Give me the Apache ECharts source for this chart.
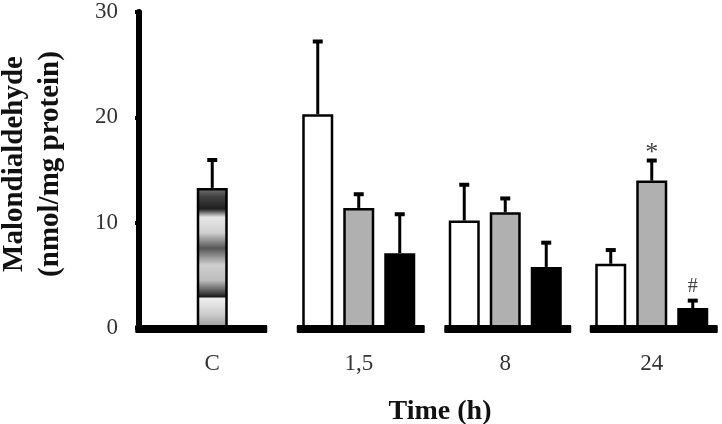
<!DOCTYPE html>
<html>
<head>
<meta charset="utf-8">
<script src="https://cdn.jsdelivr.net/npm/echarts@6/dist/echarts.min.js"></script>
<style>html,body{margin:0;padding:0;background:#fff}#c{width:722px;height:424px}</style>
</head>
<body>
<div id="c"></div>
<script>
// ---- data ----
var categories = ['C', '1,5', '8', '24'];
var yTicks = [0, 10, 20, 30];
var whiteVals = ['-', 20.3, 10.2, 6.1];
var whiteErr  = [null, 6.9, 3.4, 1.3];
var grayVals  = [13.3, 11.4, 11.0, 14.0];
var grayErr   = [2.65, 1.3, 1.3, 1.9];
var blackVals = ['-', 7.1, 5.8, 1.9];
var blackErr  = [null, 3.7, 2.3, 0.7];
var graySig   = ['', '', '', '*'];
var blackSig  = ['', '', '', '#'];

// ---- style ----
var FONT = '"Liberation Serif","Times New Roman",serif';
var BAR_W = 31, GAP = 10;
var baseExt = [[-77, 55], [-62, 66], [-61, 66], [-62, 66]];

var chart = echarts.init(document.getElementById('c'), null, {renderer: 'canvas'});

var cGradient = new echarts.graphic.LinearGradient(0, 0, 0, 1, [
  {offset: 0.00, color: '#777'},
  {offset: 0.06, color: '#444'},
  {offset: 0.15, color: '#1e1e1e'},
  {offset: 0.21, color: '#e6e6e6'},
  {offset: 0.32, color: '#cfcfcf'},
  {offset: 0.43, color: '#555'},
  {offset: 0.55, color: '#cfcfcf'},
  {offset: 0.66, color: '#bdbdbd'},
  {offset: 0.75, color: '#444'},
  {offset: 0.775, color: '#1a1a1a'},
  {offset: 0.79, color: '#f0f0f0'},
  {offset: 0.9, color: '#cccccc'},
  {offset: 1.00, color: '#9a9a9a'}
]);

function barData(vals, special) {
  return vals.map(function (v, i) {
    if (special && special[i]) return {value: v, itemStyle: special[i]};
    return v;
  });
}

function errSeries(vals, errs, sigs, slot) {
  var data = [];
  vals.forEach(function (v, i) { if (v !== '-' && errs[i] != null) data.push([i, v, errs[i]]); });
  return {
    type: 'custom',
    z: 5,
    data: data,
    encode: {x: 0, y: 1},
    renderItem: function (params, api) {
      var i = api.value(0), v = api.value(1), e = api.value(2);
      var b = api.coord([i, v]);
      var t = api.coord([i, v + e]);
      var x = b[0] + slot * (BAR_W + GAP);
      var children = [
        {type: 'line', shape: {x1: x, y1: b[1], x2: x, y2: t[1]}, style: {stroke: '#000', lineWidth: 3}},
        {type: 'line', shape: {x1: x - 5, y1: t[1], x2: x + 5, y2: t[1]}, style: {stroke: '#000', lineWidth: 4}}
      ];
      var s = sigs ? sigs[i] : '';
      if (s) {
        children.push({type: 'text', style: {text: s, x: x, y: (s === '*' ? t[1] + 6 : t[1] - 4), align: 'center', verticalAlign: 'bottom',
          font: (s === '*' ? '26px ' : '20px ') + FONT, fill: '#444'}});
      }
      return {type: 'group', children: children};
    }
  };
}

var option = {
  animation: false,
  backgroundColor: '#fff',
  grid: {left: 139, top: 12, bottom: 96, width: 586, containLabel: false, outerBoundsMode: 'none'},
  xAxis: {
    type: 'category',
    data: categories,
    axisLine: {show: false},
    axisTick: {show: false},
    axisLabel: {fontFamily: FONT, fontSize: 23, color: '#333', margin: 24},
    name: 'Time (h)',
    nameLocation: 'middle',
    nameGap: 70,
    nameTextStyle: {fontFamily: FONT, fontSize: 28, fontWeight: 'bold', color: '#111', padding: [0, 0, 0, 16]},
    splitLine: {show: false}
  },
  yAxis: {
    type: 'value',
    min: yTicks[0], max: yTicks[yTicks.length - 1], interval: 10,
    axisLine: {show: true, lineStyle: {color: '#000', width: 6, cap: 'round'}},
    axisTick: {show: true, length: 4, lineStyle: {color: '#000', width: 4}},
    axisLabel: {fontFamily: FONT, fontSize: 23, color: '#333', margin: 21},
    splitLine: {show: false},
    name: 'Malondialdehyde\n(nmol/mg protein)',
    nameLocation: 'middle',
    nameRotate: 90,
    nameGap: 70,
    nameTextStyle: {fontFamily: FONT, fontSize: 29, fontWeight: 'bold', color: '#111', lineHeight: 36, padding: [0, 0, 0, 12]}
  },
  series: [
    {type: 'bar', name: 'white', data: barData(whiteVals), barWidth: BAR_W, barGap: (GAP / BAR_W * 100) + '%',
      itemStyle: {color: '#fff', borderColor: '#000', borderWidth: 2.5}},
    {type: 'bar', name: 'gray', data: barData(grayVals, [{color: cGradient}]), barWidth: BAR_W, barGap: (GAP / BAR_W * 100) + '%',
      itemStyle: {color: '#b0b0b0', borderColor: '#000', borderWidth: 2.5}},
    {type: 'bar', name: 'black', data: barData(blackVals), barWidth: BAR_W, barGap: (GAP / BAR_W * 100) + '%',
      itemStyle: {color: '#000', borderColor: '#000', borderWidth: 2.5}},
    errSeries(whiteVals, whiteErr, null, -1),
    errSeries(grayVals, grayErr, graySig, 0),
    errSeries(blackVals, blackErr, blackSig, 1),
    {
      type: 'custom', z: 6,
      data: categories.map(function (c, i) { return [i, 0]; }),
      encode: {x: 0, y: 1},
      renderItem: function (params, api) {
        var i = api.value(0);
        var p = api.coord([i, 0]);
        var ext = baseExt[i];
        return {type: 'rect', shape: {x: p[0] + ext[0], y: p[1] - 3, width: ext[1] - ext[0], height: 8, r: 1},
          style: {fill: '#000'}};
      }
    }
  ]
};
chart.setOption(option);
</script>
</body>
</html>
